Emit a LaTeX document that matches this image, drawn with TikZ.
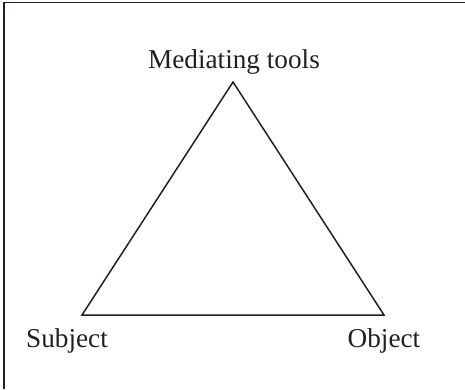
\documentclass[tikz,border=0pt]{standalone}
\usepackage{fontspec}
\setmainfont{Liberation Serif}
\usetikzlibrary{positioning}
\definecolor{inkgray}{HTML}{231F20}

\begin{document}
\begin{tikzpicture}[x=0.02cm, y=-0.02cm, line width=0.85pt,
    lbl/.style={text=inkgray, font=\fontsize{15.5}{18}\selectfont, inner sep=0pt, anchor=base}]

% Canvas and frame
\useasboundingbox (0,0) rectangle (465,389);
\draw[inkgray, line width=1pt] (4,389) -- (4,2.5) -- (465,2.5);

% Corners of the triangle
\coordinate (tools) at (233,82);
\coordinate (subject) at (82,315);
\coordinate (object) at (384,315);

% Triangle
\draw[inkgray, line join=miter] (tools) -- (object) -- (subject) -- cycle;

% Labels
\node[lbl] (toolslbl) at (234,68) {Mediating tools};
\node[lbl] (subjectlbl) at (67,347) {Subject};
\node[lbl] (objectlbl) at (384,347) {Object};

\end{tikzpicture}
\end{document}
